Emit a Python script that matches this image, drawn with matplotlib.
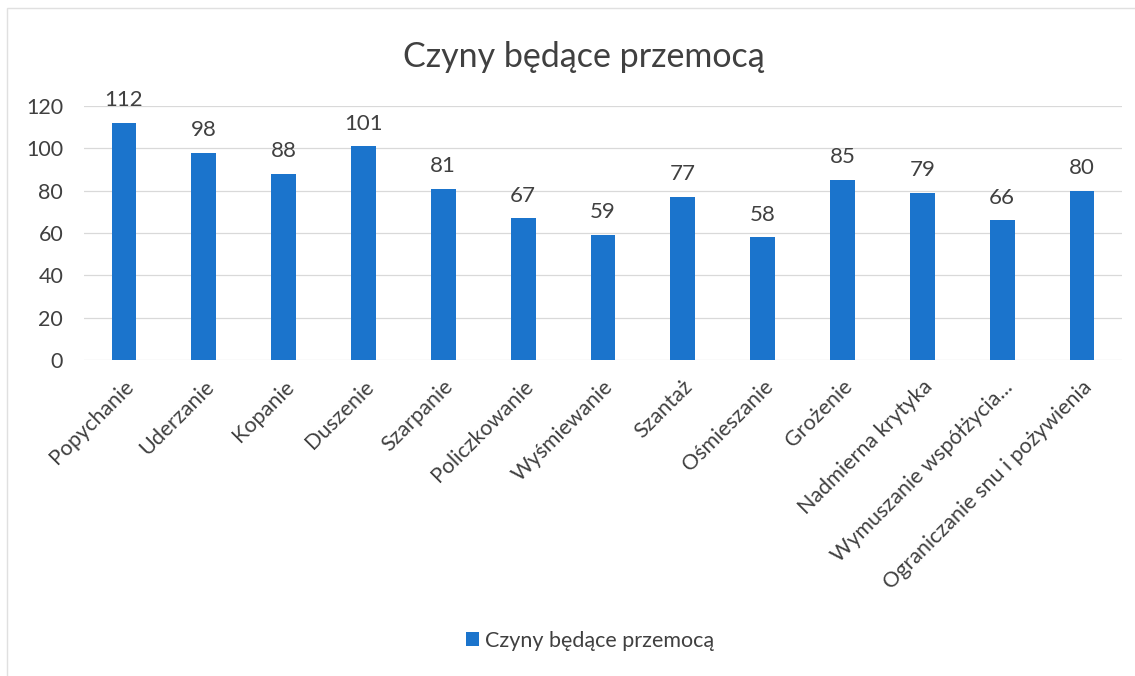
import matplotlib.pyplot as plt
from matplotlib.patches import Rectangle

categories = ["Popychanie", "Uderzanie", "Kopanie", "Duszenie", "Szarpanie",
              "Policzkowanie", "Wyśmiewanie", "Szantaż", "Ośmieszanie",
              "Grożenie", "Nadmierna krytyka", "Wymuszanie współżycia...",
              "Ograniczanie snu i pożywienia"]
values = [112, 98, 88, 101, 81, 67, 59, 77, 58, 85, 79, 66, 80]
yticks = [0, 20, 40, 60, 80, 100, 120]

series_name = "Czyny będące przemocą"
bar_color = "#1b74cc"
text_color = "#404040"

plt.rcParams['font.family'] = ['Lato', 'DejaVu Sans']

fig = plt.figure(figsize=(11.35, 6.76), dpi=100)
ax = fig.add_axes([0.074, 0.4675, 0.9145, 0.3755])

x = range(len(categories))
ax.bar(x, values, width=0.31, color=bar_color, label=series_name, zorder=3)
for xi, v in zip(x, values):
    ax.text(xi, v + 6, str(v), ha='center', va='bottom', fontsize=16, color=text_color)

ax.set_xlim(-0.5, len(categories) - 0.5)
ax.set_ylim(0, 120)
ax.set_yticks(yticks)
ax.set_xticks(list(x))
ax.set_xticklabels(categories, rotation=45, ha='right', rotation_mode='anchor')
ax.tick_params(axis='both', length=0, labelsize=15.5, colors=text_color)
ax.tick_params(axis='y', pad=15)
ax.tick_params(axis='x', pad=12)
ax.grid(axis='y', color='#d9d9d9', linewidth=0.9, zorder=0)
for s in ax.spines.values():
    s.set_visible(False)

fig.text(0.514, 0.916, series_name, ha='center', va='center', fontsize=24.5, color=text_color)

leg = fig.legend(loc='center', bbox_to_anchor=(0.52, 0.052), frameon=False, fontsize=15.5,
                 handlelength=0.6, handleheight=0.6, handletextpad=0.3)
for t in leg.get_texts():
    t.set_color(text_color)

# chart frame
fig.patches.append(Rectangle((0.006, -0.01), 1.1, 0.998, transform=fig.transFigure,
                             fill=False, edgecolor='#e0e0e0', linewidth=1.0))

fig.savefig("out.png", dpi=100)
